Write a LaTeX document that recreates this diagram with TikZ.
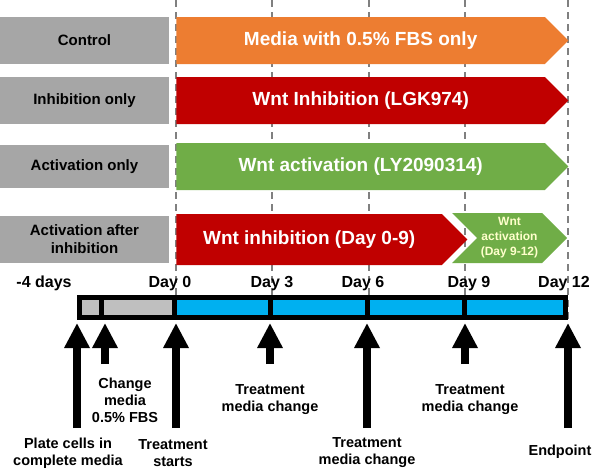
\documentclass[tikz,border=0pt]{standalone}
\usepackage{fontspec}
\setmainfont{Liberation Sans}
\usetikzlibrary{arrows.meta, positioning, shapes.symbols}

\definecolor{boxgray}{HTML}{A6A6A6}
\definecolor{ctrlorange}{HTML}{ED7D31}
\definecolor{inhred}{HTML}{C00000}
\definecolor{actgreen}{HTML}{70AD47}
\definecolor{dayblue}{HTML}{00B0F0}
\definecolor{pregray}{HTML}{BFBFBF}
\definecolor{guidegray}{HTML}{808080}
\definecolor{paleyellow}{HTML}{FFFFCC}

\begin{document}
\begin{tikzpicture} [x = 1pt, y = -1pt, node distance = 7pt,
group/.style = {fill = boxgray, minimum width = 169pt, minimum height = 47pt, inner sep = 0pt, align = center, font = \fontsize{15}{18}\selectfont\bfseries},
phase/.style = {signal, signal to = east, signal pointer angle = 90, minimum height = 47pt, inner sep = 0pt, text = white, font = \fontsize{19}{22}\selectfont\bfseries},
seg/.style = {draw = black, line width = 5pt, minimum height = 20pt, inner sep = 0pt, outer sep = 0pt, anchor = west},
day/.style = {anchor = base, font = \fontsize{16}{18}\selectfont\bfseries},
note/.style = {align = center, font = \fontsize{14.5}{17}\selectfont\bfseries},
guide/.style = {guidegray, line width = 1.3pt, dash pattern = on 7pt off 5pt},
bigarrow/.style = {line width = 7.5pt, -{Triangle[length = 25pt, width = 24pt]}}]

\useasboundingbox (0,0) rectangle (594,469);

% day guides
\foreach \x in {176,272,369,465,568}
	\draw [guide] (\x,0) -- (\x,323);

% groups
\node (c0) [group] at (84.5,40.5) {Control};
\node (c1) [group] at (84.5,100.5) {Inhibition only};
\node (c2) [group, minimum height = 43pt] at (84.5,166.5) {Activation only};
\node (c3) [group] at (84.5,239.5) {Activation after\\inhibition};

% treatments
\node (p0) [phase, fill = ctrlorange, minimum width = 392pt, right = of c0] {Media with 0.5\% FBS only};
\node (p1) [phase, fill = inhred, minimum width = 392pt, right = of c1] {Wnt Inhibition (LGK974)};
\node (p2) [phase, fill = actgreen, minimum width = 392pt, right = of c2] {Wnt activation (LY2090314)};
\node (p3) [phase, fill = inhred, minimum width = 291pt, minimum height = 51pt, right = of c3] {Wnt inhibition (Day 0-9)};
\node (p4) [phase, signal from = west, fill = actgreen, minimum width = 115pt, minimum height = 50pt, text = paleyellow, align = center, font = \fontsize{12}{15}\selectfont\bfseries] at (509.5,238) {Wnt\\activation\\(Day 9-12)};

% timeline
\node (s0) [seg, fill = pregray, minimum width = 21.5pt] at (79.5,307.5) {};
\node (s1) [seg, fill = pregray, minimum width = 73.5pt, right = 0pt of s0] {};
\node (s2) [seg, fill = dayblue, minimum width = 96pt, right = 0pt of s1] {};
\node (s3) [seg, fill = dayblue, minimum width = 96.5pt, right = 0pt of s2] {};
\node (s4) [seg, fill = dayblue, minimum width = 97.5pt, right = 0pt of s3] {};
\node (s5) [seg, fill = dayblue, minimum width = 101pt, right = 0pt of s4] {};

\node (d0) [day] at (44,287) {-4 days};
\node (d1) [day] at (170,287) {Day 0};
\node (d2) [day] at (272,287) {Day 3};
\node (d3) [day] at (363,287) {Day 6};
\node (d4) [day] at (469,287) {Day 9};
\node (d5) [day] at (564,287) {Day 12};

% events
\foreach \i/\x/\y in {0/77/428, 1/105/364, 2/176/428, 3/270/364, 4/367/428, 5/465/364, 6/568/428} {
	\coordinate (f\i) at (\x,\y);
	\coordinate (h\i) at (\x,323);
	\draw [bigarrow] (f\i) -- (h\i);
}

\node (n0) [note] at (68,453) {Plate cells in\\complete media};
\node (n1) [note] at (125,400) {Change\\media\\0.5\% FBS};
\node (n2) [note] at (173,453) {Treatment\\starts};
\node (n3) [note] at (270,400) {Treatment\\media change};
\node (n4) [note] at (367,453) {Treatment\\media change};
\node (n5) [note] at (470,400) {Treatment\\media change};
\node (n6) [note] at (560,452) {Endpoint};
\end{tikzpicture}
\end{document}
